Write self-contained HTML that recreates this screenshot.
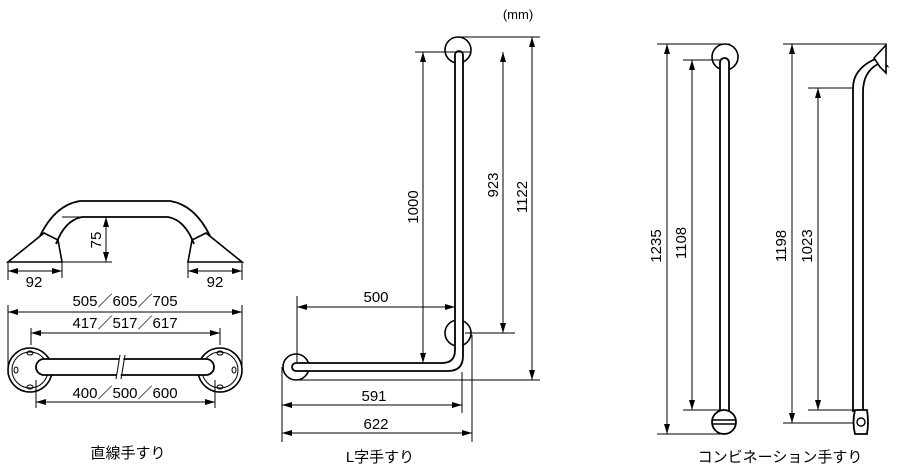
<!DOCTYPE html>
<html><head><meta charset="utf-8"><style>
html,body{margin:0;padding:0;background:#fff;}
svg{display:block;}
text{font-family:"Liberation Sans","Noto Sans CJK JP",sans-serif;fill:#000;}
</style></head><body>
<svg width="899" height="470" viewBox="0 0 899 470" xmlns="http://www.w3.org/2000/svg">
<defs>
<marker id="a" viewBox="0 0 10 6" refX="10" refY="3" markerWidth="10" markerHeight="6" orient="auto-start-reverse" markerUnits="userSpaceOnUse"><path d="M0,0 L10,3 L0,6z" fill="#000"/></marker>
</defs>
<g stroke="#000" stroke-width="1" fill="none">
<path d="M8,262 L62,262 L58,240 L44,233 Z" fill="#fff" stroke-width="1.6"/>
<path d="M242,262 L188,262 L192,240 L206,233 Z" fill="#fff" stroke-width="1.6"/>
<path d="M40,236 Q55,205 80,201 L170,201 Q195,205 210,236" stroke-width="1.8"/>
<path d="M56,244 Q65,220 82,217 L168,217 Q185,220 194,244" stroke-width="1.8"/>
<line x1="62" y1="262" x2="112" y2="262"/>
<line x1="62" y1="217" x2="112" y2="217"/>
<line x1="106" y1="217" x2="106" y2="262" marker-start="url(#a)" marker-end="url(#a)"/>
<line x1="8" y1="262" x2="8" y2="280"/><line x1="62" y1="262" x2="62" y2="278"/>
<line x1="188" y1="262" x2="188" y2="278"/><line x1="242" y1="262" x2="242" y2="280"/>
<line x1="8" y1="271" x2="62" y2="271" marker-start="url(#a)" marker-end="url(#a)"/>
<line x1="188" y1="271" x2="242" y2="271" marker-start="url(#a)" marker-end="url(#a)"/>
<line x1="8" y1="305" x2="8" y2="375"/><line x1="242" y1="305" x2="242" y2="375"/>
<line x1="8" y1="312" x2="242" y2="312" marker-start="url(#a)" marker-end="url(#a)"/>
<line x1="31" y1="328" x2="31" y2="345"/><line x1="220" y1="328" x2="220" y2="345"/>
<line x1="31" y1="333" x2="220" y2="333" marker-start="url(#a)" marker-end="url(#a)"/>
<circle cx="30" cy="370" r="22" stroke-width="1.6"/><circle cx="30" cy="370" r="18"/>
<circle cx="220" cy="370" r="22" stroke-width="1.6"/><circle cx="220" cy="370" r="18"/>
<rect x="36" y="359" width="178" height="16" rx="8" fill="#fff" stroke-width="1.8"/>
<line x1="122" y1="355" x2="118" y2="379" stroke="#fff" stroke-width="4"/>
<line x1="120" y1="355" x2="116" y2="379"/><line x1="125" y1="355" x2="121" y2="379"/>
<ellipse cx="30" cy="353" rx="3" ry="2"/><ellipse cx="30" cy="387" rx="3" ry="2"/>
<ellipse cx="16" cy="370" rx="2" ry="3"/>
<ellipse cx="220" cy="353" rx="3" ry="2"/><ellipse cx="220" cy="387" rx="3" ry="2"/>
<ellipse cx="234" cy="370" rx="2" ry="3"/>
<line x1="36" y1="380" x2="36" y2="408"/><line x1="215" y1="380" x2="215" y2="408"/>
<line x1="36" y1="402" x2="215" y2="402" marker-start="url(#a)" marker-end="url(#a)"/>
<circle cx="458" cy="50" r="13" stroke-width="1.6" fill="#fff"/>
<circle cx="458" cy="333" r="13" stroke-width="1.6" fill="#fff"/>
<circle cx="296" cy="367" r="13" stroke-width="1.6" fill="#fff"/>
<path d="M455,55 L455,350 Q455,363 442,363 L296,363 A4,4 0 0 0 296,371 L448,371 Q463,371 463,356 L463,55 A4,4 0 0 0 455,55 Z" fill="#fff" stroke-width="1.8"/>
<line x1="415" y1="52" x2="470" y2="52"/>
<line x1="458" y1="37" x2="540" y2="37"/>
<line x1="465" y1="333" x2="515" y2="333"/>
<line x1="296" y1="380" x2="540" y2="380"/>
<line x1="423" y1="52" x2="423" y2="363" marker-start="url(#a)" marker-end="url(#a)"/>
<line x1="503" y1="52" x2="503" y2="333" marker-start="url(#a)" marker-end="url(#a)"/>
<line x1="532" y1="37" x2="532" y2="380" marker-start="url(#a)" marker-end="url(#a)"/>
<line x1="297" y1="296" x2="297" y2="362"/>
<line x1="297" y1="307" x2="455" y2="307" marker-start="url(#a)" marker-end="url(#a)"/>
<line x1="282" y1="367" x2="282" y2="442"/>
<line x1="462" y1="372" x2="462" y2="413"/>
<line x1="472" y1="335" x2="472" y2="442"/>
<line x1="282" y1="405" x2="462" y2="405" marker-start="url(#a)" marker-end="url(#a)"/>
<line x1="282" y1="433" x2="472" y2="433" marker-start="url(#a)" marker-end="url(#a)"/>
<circle cx="725" cy="57" r="13" stroke-width="1.6" fill="#fff"/>
<rect x="720" y="58" width="9" height="360" rx="4.5" fill="#fff" stroke-width="1.8"/>
<circle cx="724" cy="422" r="12" stroke-width="1.8" fill="#fff"/>
<line x1="712" y1="420" x2="736" y2="420" stroke-width="1.4"/><line x1="712" y1="424" x2="736" y2="424" stroke-width="1.4"/>
<line x1="657" y1="44" x2="730" y2="44"/><line x1="657" y1="434" x2="724" y2="434"/>
<line x1="683" y1="60" x2="720" y2="60"/><line x1="683" y1="410" x2="720" y2="410"/>
<line x1="667" y1="44" x2="667" y2="434" marker-start="url(#a)" marker-end="url(#a)"/>
<line x1="692" y1="60" x2="692" y2="410" marker-start="url(#a)" marker-end="url(#a)"/>
<path d="M853,412 L853,88 Q853,70 873,60 L880,58 L887,66 L878,64 Q863,72 863,92 L863,412" fill="#fff" stroke-width="1.8"/>
<path d="M874,58 L886,45 L886,73 L880,67 Z" fill="#fff" stroke-width="1.6"/>
<path d="M855,410 L867,410 Q869,422 867,434 L855,434 Q852,422 855,410 Z" fill="#fff" stroke-width="1.8"/>
<circle cx="861" cy="422" r="4" stroke-width="1.4"/>
<line x1="783" y1="44" x2="886" y2="44"/><line x1="783" y1="423" x2="853" y2="423"/>
<line x1="808" y1="88" x2="853" y2="88"/><line x1="808" y1="410" x2="853" y2="410"/>
<line x1="792" y1="44" x2="792" y2="423" marker-start="url(#a)" marker-end="url(#a)"/>
<line x1="818" y1="88" x2="818" y2="410" marker-start="url(#a)" marker-end="url(#a)"/>
</g>
<g font-size="15">
<text x="34" y="287" text-anchor="middle">92</text>
<text x="215" y="287" text-anchor="middle">92</text>
<text transform="translate(101,240) rotate(-90)" text-anchor="middle">75</text>
<text x="125" y="306" text-anchor="middle">505／605／705</text>
<text x="125" y="328" text-anchor="middle">417／517／617</text>
<text x="125" y="398" text-anchor="middle">400／500／600</text>
<text x="376" y="302" text-anchor="middle">500</text>
<text x="374" y="401" text-anchor="middle">591</text>
<text x="376" y="429" text-anchor="middle">622</text>
<text transform="translate(418,207) rotate(-90)" text-anchor="middle">1000</text>
<text transform="translate(498,185) rotate(-90)" text-anchor="middle">923</text>
<text transform="translate(527,197) rotate(-90)" text-anchor="middle">1122</text>
<text transform="translate(661,246) rotate(-90)" text-anchor="middle">1235</text>
<text transform="translate(686,243) rotate(-90)" text-anchor="middle">1108</text>
<text transform="translate(786,246) rotate(-90)" text-anchor="middle">1198</text>
<text transform="translate(812,246) rotate(-90)" text-anchor="middle">1023</text>
<text x="518" y="19" text-anchor="middle" font-size="13">(mm)</text>
<text x="128" y="458" text-anchor="middle">直線手すり</text>
<text x="380" y="462" text-anchor="middle">L字手すり</text>
<text x="780" y="462" text-anchor="middle">コンビネーション手すり</text>
</g>
</svg>
</body></html>
